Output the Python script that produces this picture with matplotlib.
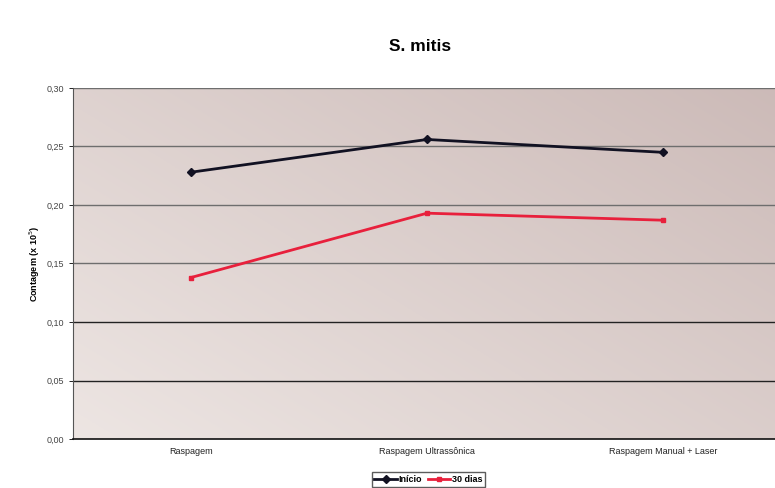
"""S. mitis: contagem por tipo de raspagem"""
import matplotlib.pyplot as plt
import numpy as np

FIG_SIZE = (7.75, 4.88)
DPI = 100

categories = ["Raspagem", "Raspagem Ultrassônica", "Raspagem Manual + Laser"]
inicio = [0.228, 0.256, 0.245]
dias_30 = [0.138, 0.193, 0.187]
y_ticks = [0.00, 0.05, 0.10, 0.15, 0.20, 0.25, 0.30]

plt.rcParams['font.family'] = ['Liberation Sans', 'DejaVu Sans']

fig = plt.figure(figsize=FIG_SIZE, dpi=DPI)
ax = fig.add_axes([0.094, 0.1004, 0.914, 0.7193])

# diagonal gradient background, darker toward the upper right
gx, gy = np.meshgrid(np.linspace(0, 1, 300), np.linspace(0, 1, 200))
grad = np.clip(0.55 * gx + 0.45 * gy, 0, 1)
light = np.array([0.93, 0.90, 0.89])
dark = np.array([0.80, 0.73, 0.72])
img = light + (dark - light) * grad[..., None]
ax.imshow(img, extent=(-0.5, 2.5, 0, 0.30), origin="lower", aspect="auto", zorder=0)

for t in y_ticks[1:]:
    c = "#222222" if t <= 0.10 else "#6e6e6e"
    ax.axhline(t, color=c, linewidth=1.0, zorder=1)

x = np.arange(len(categories))
ax.plot(x, inicio, color="#111122", linewidth=2.0, marker="D", markersize=4, label="Início", zorder=3)
ax.plot(x, dias_30, color="#e8203c", linewidth=2.0, marker="s", markersize=3.5, label="30 dias", zorder=3)

ax.set_xlim(-0.5, 2.5)
ax.set_ylim(0, 0.30)
ax.set_yticks(y_ticks)
ax.set_yticklabels(["{:.2f}".format(t).replace(".", ",") for t in y_ticks], fontsize=6.5, color="#444444")
ax.set_xticks(x)
ax.set_xticklabels(categories, fontsize=6.5, color="#222222")
ax.tick_params(axis="x", length=0, pad=6)
ax.tick_params(axis="y", length=3, width=0.6)
for side in ["top", "right"]:
    ax.spines[side].set_visible(False)
ax.spines["left"].set_color("#555555")
ax.spines["bottom"].set_color("#111111")
ax.spines["bottom"].set_linewidth(1.2)

ax.set_ylabel("Contagem (x 10$^5$)", fontsize=6.5, fontweight="bold", labelpad=3)
fig.text(0.542, 0.905, "S. mitis", ha="center", va="center", fontsize=12.5, fontweight="bold")

leg = fig.legend(loc="center", bbox_to_anchor=(0.553, 0.017), ncol=2, fontsize=6.5,
                 frameon=True, handlelength=2.5, handletextpad=0.2, columnspacing=0.6,
                 borderpad=0.3, fancybox=False, edgecolor="#333333")
for t in leg.get_texts():
    t.set_fontweight("bold")

plt.savefig("out.png", dpi=DPI)
